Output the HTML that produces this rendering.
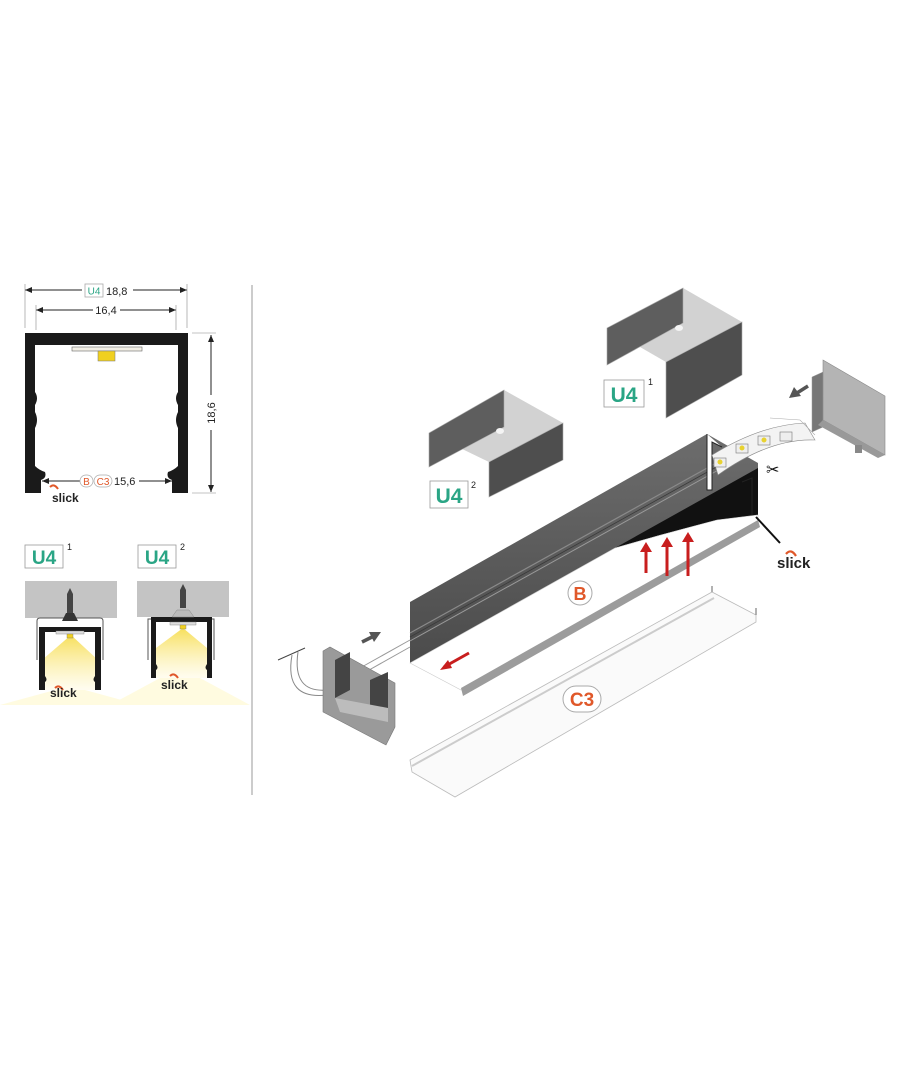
<!DOCTYPE html>
<html><head><meta charset="utf-8"><style>
html,body{margin:0;padding:0;background:#fff}
svg{display:block}
text{font-family:"Liberation Sans",sans-serif}
</style></head><body>
<svg width="910" height="1080" viewBox="0 0 910 1080" xmlns="http://www.w3.org/2000/svg">
<defs>
<marker id="ah" markerWidth="8" markerHeight="8" refX="7" refY="4" orient="auto-start-reverse" markerUnits="userSpaceOnUse"><path d="M0,1 L7,4 L0,7 z" fill="#222"/></marker>
<linearGradient id="ly" x1="0" y1="0" x2="0" y2="1"><stop offset="0" stop-color="#f7df5a"/><stop offset="1" stop-color="#fffbe6" stop-opacity="0.6"/></linearGradient>
<linearGradient id="dk" x1="0" y1="0" x2="0" y2="1"><stop offset="0" stop-color="#6d6d6d"/><stop offset="1" stop-color="#4b4b4b"/></linearGradient>
</defs>

<!-- ===== LEFT: dimension drawing ===== -->
<line x1="25" y1="290" x2="82" y2="290" stroke="#222" stroke-width="1" marker-start="url(#ah)"/>
<line x1="133" y1="290" x2="187" y2="290" stroke="#222" stroke-width="1" marker-end="url(#ah)"/>
<rect x="85" y="284" width="18" height="13" fill="#fff" stroke="#aaa" stroke-width="0.8"/>
<text x="94" y="294.5" font-size="10" fill="#2aa585" text-anchor="middle">U4</text>
<text x="106" y="295" font-size="11" fill="#222">18,8</text>
<line x1="25" y1="284" x2="25" y2="328" stroke="#888" stroke-width="0.6"/>
<line x1="187" y1="284" x2="187" y2="328" stroke="#888" stroke-width="0.6"/>
<line x1="36" y1="310" x2="93" y2="310" stroke="#222" stroke-width="1" marker-start="url(#ah)"/>
<line x1="120" y1="310" x2="176" y2="310" stroke="#222" stroke-width="1" marker-end="url(#ah)"/>
<text x="106" y="314" font-size="11" fill="#222" text-anchor="middle">16,4</text>
<line x1="36" y1="305" x2="36" y2="330" stroke="#888" stroke-width="0.6"/>
<line x1="176" y1="305" x2="176" y2="330" stroke="#888" stroke-width="0.6"/>
<path d="M25,333 H188 V493 H172 V480 Q166,478 168,472 Q174,470 178,466 V428 Q174,420 178,412 V405 Q174,398 178,392 V345 H35 V392 Q39,398 35,405 V412 Q39,420 35,428 V466 Q39,470 45,472 Q47,478 41,480 V493 H25 Z" fill="#1a1a1a"/>
<rect x="72" y="347" width="70" height="4" fill="#f2efe6" stroke="#666" stroke-width="0.6"/>
<rect x="98" y="351" width="17" height="10" fill="#f0d020" stroke="#777" stroke-width="0.5"/>
<line x1="211" y1="335" x2="211" y2="395" stroke="#222" stroke-width="1" marker-start="url(#ah)"/>
<line x1="211" y1="430" x2="211" y2="492" stroke="#222" stroke-width="1" marker-end="url(#ah)"/>
<line x1="192" y1="333" x2="216" y2="333" stroke="#888" stroke-width="0.6"/>
<line x1="192" y1="493" x2="216" y2="493" stroke="#888" stroke-width="0.6"/>
<text transform="translate(215,413) rotate(-90)" font-size="11" fill="#222" text-anchor="middle">18,6</text>
<line x1="42" y1="481" x2="80" y2="481" stroke="#222" stroke-width="1" marker-start="url(#ah)"/>
<line x1="139" y1="481" x2="172" y2="481" stroke="#222" stroke-width="1" marker-end="url(#ah)"/>
<rect x="80" y="475" width="13" height="12" rx="6" fill="#fff" stroke="#aaa" stroke-width="0.7"/>
<text x="86.5" y="485" font-size="10" fill="#e0582a" text-anchor="middle">B</text>
<rect x="94" y="475" width="18" height="12" rx="6" fill="#fff" stroke="#aaa" stroke-width="0.7"/>
<text x="103" y="485" font-size="10" fill="#e0582a" text-anchor="middle">C3</text>
<text x="114" y="485" font-size="11" fill="#222">15,6</text>
<path d="M50,487 Q54,483 58,489" stroke="#e0582a" stroke-width="2" fill="none"/>
<text x="52" y="502" font-size="12" font-weight="bold" fill="#222">slick</text>

<rect x="25" y="545" width="38" height="23" fill="#fff" stroke="#999" stroke-width="0.8"/>
<text x="44" y="564" font-size="19" font-weight="bold" fill="#2aa585" text-anchor="middle">U4</text>
<text x="67" y="550" font-size="9" fill="#222">1</text>
<rect x="138" y="545" width="38" height="23" fill="#fff" stroke="#999" stroke-width="0.8"/>
<text x="157" y="564" font-size="19" font-weight="bold" fill="#2aa585" text-anchor="middle">U4</text>
<text x="180" y="550" font-size="9" fill="#222">2</text>

<!-- mini 1 -->
<polygon points="0,705 55,690 85,690 140,705" fill="#fffbe0"/>
<rect x="25" y="581" width="92" height="37" fill="#c4c4c4"/>
<path d="M37,660 V621 Q37,618 40,618 H100 Q103,618 103,621 V660" stroke="#555" stroke-width="1" fill="none"/>
<polygon points="71,635 42,660 42,690 98,690 98,660" fill="url(#ly)"/>
<path d="M39,690 V627 H101 V690 H95 V682 Q92,680 95,676 V632 H45 V676 Q48,680 45,682 V690 Z" fill="#1a1a1a"/>
<rect x="56" y="631" width="28" height="3" fill="#ddd" stroke="#777" stroke-width="0.4"/>
<rect x="67" y="634" width="6" height="4" fill="#f0d020" stroke="#777" stroke-width="0.4"/>
<path d="M67,613 V594 L70,588 L73,594 V613 Z" fill="#444"/>
<polygon points="62,621 66,613 74,613 78,621" fill="#333"/>
<path d="M55,688 Q59,684 63,690" stroke="#e0582a" stroke-width="2" fill="none"/>
<text x="50" y="697" font-size="12" font-weight="bold" fill="#222">slick</text>

<!-- mini 2 -->
<polygon points="110,705 160,678 200,678 250,705" fill="#fffbe0"/>
<rect x="137" y="581" width="92" height="36" fill="#c4c4c4"/>
<path d="M148,660 V619 H214 V660" stroke="#555" stroke-width="1" fill="none"/>
<polygon points="183,628 156,648 156,678 207,678 207,648" fill="url(#ly)"/>
<path d="M151,678 V617 H212 V678 H207 V670 Q204,668 207,664 V622 H156 V664 Q159,668 156,670 V678 Z" fill="#1a1a1a"/>
<rect x="170" y="622" width="26" height="3" fill="#ddd" stroke="#777" stroke-width="0.4"/>
<rect x="180" y="625" width="6" height="4" fill="#f0d020" stroke="#777" stroke-width="0.4"/>
<path d="M180,608 V590 L183,584 L186,590 V608 Z" fill="#444"/>
<polygon points="172,617 177,610 189,610 194,617" fill="#bbb" stroke="#888" stroke-width="0.5"/>
<path d="M170,676 Q174,672 178,678" stroke="#e0582a" stroke-width="2" fill="none"/>
<text x="161" y="689" font-size="12" font-weight="bold" fill="#222">slick</text>

<line x1="252" y1="285" x2="252" y2="795" stroke="#999" stroke-width="1"/>

<!-- U4^1 clip -->
<polygon points="607,328 683,288 742,322 666,362" fill="#d2d2d2"/>
<polygon points="607,328 683,288 683,323 607,365" fill="#5e5e5e" stroke="#aaa" stroke-width="0.6"/>
<polygon points="666,362 742,322 742,375 666,418" fill="#4e4e4e" stroke="#aaa" stroke-width="0.6"/>
<ellipse cx="679" cy="328" rx="4" ry="3" fill="#f4f4f4"/>
<rect x="604" y="380" width="40" height="27" fill="#fff" stroke="#999" stroke-width="0.8"/>
<text x="624" y="402" font-size="21" font-weight="bold" fill="#2aa585" text-anchor="middle">U4</text>
<text x="648" y="385" font-size="9" fill="#222">1</text>

<!-- U4^2 clip -->
<polygon points="429,433 504,390 563,423 489,462" fill="#d2d2d2"/>
<polygon points="429,433 504,390 504,427 429,467" fill="#5e5e5e" stroke="#aaa" stroke-width="0.6"/>
<polygon points="489,462 563,423 563,460 489,497" fill="#4e4e4e" stroke="#aaa" stroke-width="0.6"/>
<ellipse cx="500" cy="431" rx="4" ry="3" fill="#f4f4f4"/>
<rect x="430" y="481" width="38" height="27" fill="#fff" stroke="#999" stroke-width="0.8"/>
<text x="449" y="503" font-size="21" font-weight="bold" fill="#2aa585" text-anchor="middle">U4</text>
<text x="471" y="488" font-size="9" fill="#222">2</text>

<!-- right end cap -->
<polygon points="812,377 823,372 823,427 812,432" fill="#777" stroke="#999" stroke-width="0.5"/>
<polygon points="823,360 885,396 885,455 823,420" fill="#b4b4b4" stroke="#888" stroke-width="0.6"/>
<polygon points="823,420 885,455 878,458 818,425" fill="#999"/>
<rect x="855" y="445" width="7" height="8" fill="#888"/>
<line x1="808" y1="386" x2="797" y2="393" stroke="#555" stroke-width="3.5"/>
<polygon points="789,398 794,387 801,396" fill="#555"/>

<!-- main profile -->
<polygon points="410,602 707,434 758,463 758,470 410,663" fill="url(#dk)"/>
<line x1="410" y1="633" x2="736" y2="452" stroke="#8a8a8a" stroke-width="1.2"/>
<line x1="410" y1="641" x2="740" y2="458" stroke="#9a9a9a" stroke-width="1"/>
<line x1="410" y1="637" x2="738" y2="455" stroke="#3a3a3a" stroke-width="0.8"/>
<polygon points="615,548 758,468 758,515 717,520 660,535" fill="#111"/>
<path d="M410,663 L615,548 Q660,535 717,520 L758,515 L758,524 L461,690 Z" fill="#fff" stroke="#ccc" stroke-width="0.6"/>
<polygon points="461,688 758,520 760,527 463,696" fill="#9c9c9c"/>
<path d="M707,434 V490 H712 V442 L722,447" stroke="#222" stroke-width="1" fill="#fff"/>
<path d="M742,482 L752,478 V515" stroke="#222" stroke-width="1" fill="none"/>
<path d="M712,455 Q760,425 805,423 L815,440 Q770,438 718,475 Z" fill="#f3f3f3" stroke="#888" stroke-width="0.6"/>
<path d="M770,418 L800,420 L815,435" fill="none" stroke="#aaa" stroke-width="0.6"/>
<rect x="714" y="458" width="12" height="9" fill="#eee" stroke="#777" stroke-width="0.6"/><circle cx="720" cy="462" r="2.5" fill="#e8d230"/>
<rect x="736" y="444" width="12" height="9" fill="#eee" stroke="#777" stroke-width="0.6"/><circle cx="742" cy="448" r="2.5" fill="#e8d230"/>
<rect x="758" y="436" width="12" height="9" fill="#eee" stroke="#777" stroke-width="0.6"/><circle cx="764" cy="440" r="2.5" fill="#e8d230"/>
<rect x="780" y="432" width="12" height="9" fill="#eee" stroke="#777" stroke-width="0.6"/>
<text x="766" y="475" font-size="16" fill="#111">✂</text>
<line x1="756" y1="517" x2="780" y2="543" stroke="#111" stroke-width="2"/>
<path d="M786,554 Q791,548 796,556" stroke="#e0582a" stroke-width="2.2" fill="none"/>
<text x="777" y="568" font-size="15" font-weight="bold" fill="#222">slick</text>
<g stroke="#c81e1e" stroke-width="3" fill="#c81e1e">
<line x1="646" y1="573" x2="646" y2="550"/><polygon points="640,552 646,542 652,552" stroke="none"/>
<line x1="667" y1="576" x2="667" y2="545"/><polygon points="661,547 667,537 673,547" stroke="none"/>
<line x1="688" y1="576" x2="688" y2="540"/><polygon points="682,542 688,532 694,542" stroke="none"/>
<line x1="469" y1="653" x2="444" y2="667"/><polygon points="440,670 448,660 452,668" stroke="none"/>
</g>
<circle cx="580" cy="593" r="12" fill="#fff" stroke="#aaa" stroke-width="1"/>
<text x="580" y="600" font-size="18" font-weight="bold" fill="#e0582a" text-anchor="middle">B</text>

<polygon points="410,760 712,592 756,615 756,622 455,797 412,772" fill="#fafafa" stroke="#bbb" stroke-width="0.8"/>
<line x1="412" y1="766" x2="714" y2="598" stroke="#ccc" stroke-width="2"/>
<path d="M712,592 L712,586 M756,615 L756,608" stroke="#999" stroke-width="1.5"/>
<rect x="563" y="686" width="38" height="26" rx="13" fill="#fff" stroke="#aaa" stroke-width="1"/>
<text x="582" y="706" font-size="19" font-weight="bold" fill="#e0582a" text-anchor="middle">C3</text>

<path d="M278,660 L305,648" stroke="#444" stroke-width="1"/>
<path d="M292,655 Q284,700 327,695 M298,652 Q292,693 327,690" stroke="#888" stroke-width="1" fill="none"/>
<path d="M360,668 L410,640 M362,674 L410,647" stroke="#999" stroke-width="1"/>
<polygon points="323,651 330,647 395,683 395,727 386,745 323,712" fill="#9a9a9a" stroke="#777" stroke-width="0.6"/>
<polygon points="335,660 350,652 350,690 335,698" fill="#444"/>
<polygon points="370,680 388,672 388,708 370,716" fill="#444"/>
<polygon points="335,698 388,708 388,722 340,712" fill="#bcbcbc"/>
<line x1="362" y1="642" x2="372" y2="637" stroke="#555" stroke-width="3.5"/>
<polygon points="381,632 369,632 374,642" fill="#555"/>
</svg>
</body></html>
